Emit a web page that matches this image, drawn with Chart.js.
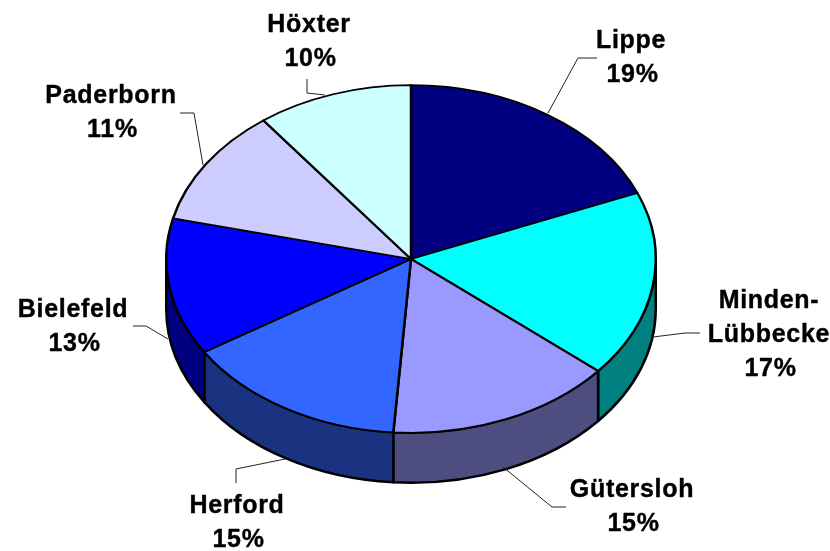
<!DOCTYPE html>
<html>
<head>
<meta charset="utf-8">
<style>
  html, body { margin: 0; padding: 0; background: #fff; }
  canvas { display: block; }
</style>
<script src="https://cdn.jsdelivr.net/npm/chart.js@4"></script>
</head>
<body>
<canvas id="chart" width="830" height="551"></canvas>
<script>
const categories = ['Lippe', 'Minden-\nLübbecke', 'Gütersloh', 'Herford', 'Bielefeld', 'Paderborn', 'Höxter'];
// the printed labels are these rounded
const shares = [18.8, 17.35, 15, 14.85, 12.75, 10.95, 10.3];
const topColors = ['#000080', '#00FFFF', '#9999FF', '#3366FF', '#0000FF', '#CCCCFF', '#CCFFFF'];
const sideColors = ['#000040', '#008080', '#4D4D80', '#1A3380', '#000080', '#666680', '#668080'];

// label centres (first line middle) and leader lines, in page pixels
const labelAnchors = [[631, 41], [769, 301], [632, 490], [237, 506], [73, 310], [111, 96], [309, 25]];
const leaders = [
  [[597, 58], [578, 58], [548, 113]],
  [[700, 333], [685, 333], [653, 337]],
  [[566, 507], [552, 507], [503, 467]],
  [[236, 483], [236, 469], [285, 459]],
  [[133, 326], [146, 326], [168, 339]],
  [[180, 113], [194, 113], [203, 165]],
  [[307, 79], [307, 93], [325, 95]]
];

const TILT = 0.71;   // vertical squash of the pie
const DEPTH = 50;    // height of the side wall
const LINE_H = 34;
const PERCENT_NUDGE = 1.5;

// squash the circular pie into an ellipse and draw the wall under it
const tiltPlugin = {
  id: 'tilt',
  beforeDatasetsDraw(chart) {
    const ctx = chart.ctx;
    const arcs = chart.getDatasetMeta(0).data;
    arcs.forEach((arc, i) => {
      const { x, y, startAngle, endAngle, outerRadius } = arc;
      const a0 = Math.max(startAngle, 0);
      const a1 = Math.min(endAngle, Math.PI);
      if (a1 <= a0) return;
      const ry = outerRadius * TILT;
      ctx.beginPath();
      ctx.ellipse(x, y, outerRadius, ry, 0, a0, a1);
      ctx.ellipse(x, y + DEPTH, outerRadius, ry, 0, a1, a0, true);
      ctx.closePath();
      ctx.fillStyle = sideColors[i];
      ctx.fill();
      ctx.lineWidth = 2.5;
      ctx.lineJoin = 'round';
      ctx.strokeStyle = '#000';
      ctx.stroke();
    });
    const c = arcs[0];
    ctx.save();
    ctx.translate(c.x, c.y);
    ctx.scale(1, TILT);
    ctx.translate(-c.x, -c.y);
  },
  afterDatasetsDraw(chart) {
    chart.ctx.restore();
  }
};

const labelPlugin = {
  id: 'sliceLabels',
  afterDraw(chart) {
    const ctx = chart.ctx;
    ctx.save();
    ctx.strokeStyle = '#222';
    ctx.lineWidth = 1;
    leaders.forEach(pts => {
      ctx.beginPath();
      pts.forEach((p, i) => i ? ctx.lineTo(p[0], p[1]) : ctx.moveTo(p[0], p[1]));
      ctx.stroke();
    });
    ctx.fillStyle = '#000';
    ctx.strokeStyle = '#000';
    ctx.lineWidth = 0.4;
    ctx.font = 'bold 25px "Liberation Sans", Arial, sans-serif';
    ctx.letterSpacing = '0.7px';
    ctx.textAlign = 'center';
    ctx.textBaseline = 'middle';
    categories.forEach((name, i) => {
      const nameLines = name.split('\n');
      const lines = nameLines.concat(Math.round(shares[i]) + '%');
      lines.forEach((t, j) => {
        const tx = labelAnchors[i][0] + (j === nameLines.length ? PERCENT_NUDGE : 0);
        const ty = labelAnchors[i][1] + j * LINE_H;
        ctx.fillText(t, tx, ty);
        ctx.strokeText(t, tx, ty);
      });
    });
    ctx.restore();
  }
};

new Chart(document.getElementById('chart'), {
  type: 'pie',
  data: {
    labels: categories,
    datasets: [{
      data: shares,
      backgroundColor: topColors,
      borderColor: '#000',
      borderWidth: 2.5,
      borderJoinStyle: 'round'
    }]
  },
  options: {
    responsive: false,
    animation: false,
    layout: { padding: { left: 165, right: 173, top: 13, bottom: 46 } },
    plugins: { legend: { display: false }, tooltip: { enabled: false } }
  },
  plugins: [tiltPlugin, labelPlugin]
});
</script>
</body>
</html>
